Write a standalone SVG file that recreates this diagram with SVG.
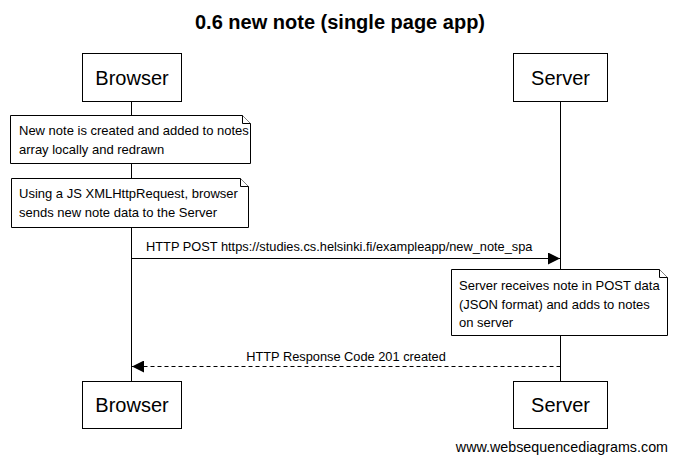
<svg xmlns="http://www.w3.org/2000/svg" width="676" height="463" viewBox="0 0 676 463">
<style>
.box{fill:#fff;stroke:#000;stroke-width:1}
.note{fill:#fff;stroke:#000;stroke-width:1}
.life{stroke:#000;stroke-width:1;fill:none}
.msg{stroke:#000;stroke-width:1;fill:none}
.dash{stroke-dasharray:4,3}
.actor{font-family:"Liberation Sans",Arial,sans-serif;font-size:20px;text-anchor:middle}
.t{font-family:"Liberation Sans",Arial,sans-serif;font-size:13px}
.m{font-family:"Liberation Sans",Arial,sans-serif;font-size:12.8px}
</style>
<defs>
<marker id="ah" markerWidth="12" markerHeight="12" viewBox="0 0 12 12" refX="12" refY="6" orient="auto" markerUnits="userSpaceOnUse">
<path d="M0,0 L12,6 L0,12 Z" fill="#000"/>
</marker>
</defs>
<rect width="676" height="463" fill="#fff"/>
<text x="340" y="29" font-family="Liberation Sans,Arial,sans-serif" font-size="20" font-weight="bold" text-anchor="middle">0.6 new note (single page app)</text>
<g id="lifelines">
<line class="life" x1="131.5" y1="101" x2="131.5" y2="381"/>
<line class="life" x1="560.5" y1="101" x2="560.5" y2="381"/>
</g>
<g id="browser-top"><rect class="box" x="82.5" y="53.5" width="99" height="48"/><text class="actor" x="132" y="85">Browser</text></g>
<g id="server-top"><rect class="box" x="513.5" y="53.5" width="94" height="48"/><text class="actor" x="560.5" y="85">Server</text></g>
<g id="note1"><path class="note" d="M10.5,115.5 H242.5 L250.5,123.5 V163.5 H10.5 Z"/><path class="note" d="M242.5,115.5 V123.5 H250.5"/><text class="t" x="19" y="135">New note is created and added to notes</text><text class="t" x="19" y="154">array locally and redrawn</text></g>
<g id="note2"><path class="note" d="M11.5,178.5 H240.5 L248.5,186.5 V227.5 H11.5 Z"/><path class="note" d="M240.5,178.5 V186.5 H248.5"/><text class="t" x="19" y="198">Using a JS XMLHttpRequest, browser</text><text class="t" x="19" y="217">sends new note data to the Server</text></g>
<g id="note3"><path class="note" d="M451.5,269.5 H659.5 L667.5,277.5 V335.5 H451.5 Z"/><path class="note" d="M659.5,269.5 V277.5 H667.5"/><text class="t" x="459" y="290">Server receives note in POST data</text><text class="t" x="459" y="309">(JSON format) and adds to notes</text><text class="t" x="459" y="327">on server</text></g>
<g id="connectors">
<line class="msg" x1="131.5" y1="258.5" x2="560" y2="258.5" marker-end="url(#ah)"/>
<text class="m" x="146" y="251">HTTP POST https://studies.cs.helsinki.fi/exampleapp/new_note_spa</text>
<line class="msg dash" x1="560.5" y1="366.5" x2="132" y2="366.5" marker-end="url(#ah)"/>
<text class="m" x="346" y="361" text-anchor="middle">HTTP Response Code 201 created</text>
</g>
<g id="browser-bottom"><rect class="box" x="82.5" y="381.5" width="99" height="47"/><text class="actor" x="132" y="412">Browser</text></g>
<g id="server-bottom"><rect class="box" x="513.5" y="381.5" width="94" height="47"/><text class="actor" x="560.5" y="412">Server</text></g>
<text x="668" y="452" font-family="Liberation Sans,Arial,sans-serif" font-size="14.3" text-anchor="end">www.websequencediagrams.com</text>
</svg>
